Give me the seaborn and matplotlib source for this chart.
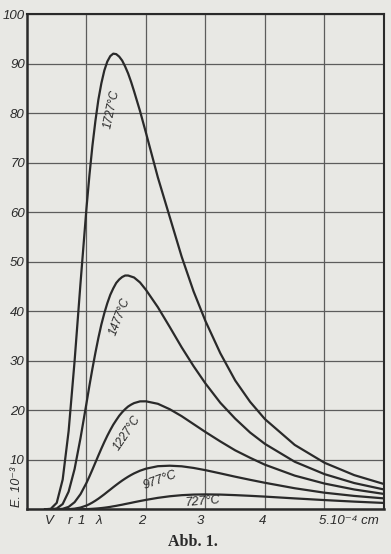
import matplotlib
matplotlib.use('Agg')
import matplotlib.pyplot as plt
import seaborn as sns
import pandas as pd

##longitudes de onda (10^-4 cm) y energia E.10^-3
lam = [0.3, 0.4, 0.5, 0.6, 0.7, 0.8, 0.9, 1.0,
       1.05, 1.1, 1.15, 1.2, 1.25, 1.3, 1.35, 1.4, 1.45, 1.5, 1.55, 1.6, 1.65, 1.7, 1.75, 1.8,
       1.9, 2.0, 2.2, 2.4, 2.6, 2.8, 3.0, 3.25, 3.5, 3.75, 4.0, 4.5, 5.0, 5.5, 6.0]

e_1727 = [0, 0.1, 1.3, 6.0, 15.8, 29.9, 45.7, 60.8,
          67.5, 73.4, 78.4, 82.7, 86.0, 88.6, 90.4, 91.5, 92.0, 91.9, 91.4, 90.6, 89.4, 88.0, 86.3, 84.4,
          80.4, 76.0, 67.0, 59.0, 51.0, 44.0, 38.0, 31.5, 26.0, 21.7, 18.2, 13.0, 9.4, 6.9, 5.1]
e_1477 = [0, 0.01, 0.16, 1.06, 3.57, 8.12, 14.4, 21.4,
          25.0, 28.4, 31.6, 34.6, 37.3, 39.6, 41.6, 43.3, 44.6, 45.7, 46.4, 46.9, 47.2, 47.2, 47.0, 46.8,
          45.8, 44.3, 40.8, 36.8, 32.7, 28.9, 25.4, 21.5, 18.3, 15.5, 13.2, 9.6, 7.1, 5.3, 4.0]
e_1227 = [0, 0, 0.01, 0.10, 0.49, 1.43, 3.06, 5.33,
          6.64, 8.02, 9.44, 10.86, 12.25, 13.58, 14.84, 16.0, 17.08, 18.0, 18.88, 19.6, 20.22, 20.75, 21.13, 21.44,
          21.79, 21.8, 21.3, 20.2, 18.8, 17.2, 15.6, 13.7, 11.9, 10.4, 9.0, 6.8, 5.2, 4.0, 3.1]
e_977 = [0, 0, 0, 0, 0.03, 0.13, 0.35, 0.76,
         1.04, 1.37, 1.74, 2.14, 2.58, 3.03, 3.51, 3.98, 4.46, 4.92, 5.37, 5.80, 6.20, 6.58, 6.93, 7.25,
         7.79, 8.20, 8.70, 8.80, 8.68, 8.35, 7.90, 7.25, 6.58, 5.95, 5.35, 4.25, 3.35, 2.70, 2.20]
e_727 = [0, 0, 0, 0, 0, 0.003, 0.014, 0.04,
         0.064, 0.10, 0.14, 0.19, 0.25, 0.32, 0.40, 0.49, 0.60, 0.70, 0.82, 0.93, 1.06, 1.18, 1.30, 1.43,
         1.67, 1.90, 2.31, 2.63, 2.85, 2.97, 3.01, 2.97, 2.86, 2.72, 2.56, 2.20, 1.86, 1.55, 1.28]

temps = ['1727°C', '1477°C', '1227°C', '977°C', '727°C']
y_ticks = [0, 10, 20, 30, 40, 50, 60, 70, 80, 90, 100]
x_grid = [1, 2, 3, 4, 5]
x_labels = ['V', 'r', '1', 'λ', '2', '3', '4']
x_label_pos = [0.37, 0.72, 0.91, 1.21, 1.93, 2.92, 3.96]

##tabla larga para seaborn
tmp_1 = pd.DataFrame({'lam': lam, temps[0]: e_1727, temps[1]: e_1477, temps[2]: e_1227,
                      temps[3]: e_977, temps[4]: e_727})
tmp_2 = tmp_1.melt(id_vars='lam', var_name='temp', value_name='E')

sns.set_theme(style='white')
plt.rcParams['font.family'] = ['Liberation Sans', 'DejaVu Sans']

papel = '#e8e8e4'
tinta = '#2a2a2a'

fig = plt.figure(figsize=(3.91, 5.54), dpi=100, facecolor=papel)
ax = fig.add_axes([0.069, 0.0807, 0.913, 0.894])
ax.set_facecolor(papel)

sns.lineplot(data=tmp_2, x='lam', y='E', hue='temp', palette=[tinta] * 5, estimator=None,
             legend=False, linewidth=1.6, ax=ax)

ax.set_xlim(0, 6)
ax.set_ylim(0, 100)
ax.set_xlabel('')
ax.set_ylabel('')
ax.set_xticks(x_grid)
ax.set_xticklabels([])
ax.set_yticks(y_ticks)
ax.set_yticklabels([''] + [str(v) for v in y_ticks[1:]], fontstyle='italic', fontsize=9.5, color=tinta)
ax.tick_params(length=0, pad=1.5)
ax.grid(True, color='#5c5c5c', linewidth=0.9)
ax.set_axisbelow(True)
for s in ax.spines.values():
    s.set_color(tinta)
    s.set_linewidth(1.5)
ax.spines['left'].set_linewidth(1.8)
ax.spines['bottom'].set_linewidth(1.8)

##etiquetas de las curvas
ax.text(1.42, 80.7, temps[0], rotation=78, ha='center', va='center', fontstyle='italic', fontsize=8.5, color=tinta)
ax.text(1.57, 39.0, temps[1], rotation=69, ha='center', va='center', fontstyle='italic', fontsize=8.5, color=tinta)
ax.text(1.68, 15.3, temps[2], rotation=56, ha='center', va='center', fontstyle='italic', fontsize=8.5, color=tinta)
ax.text(2.24, 5.8, temps[3], rotation=20, ha='center', va='center', fontstyle='italic', fontsize=9, color=tinta)
ax.text(2.95, 1.55, temps[4], rotation=5, ha='center', va='center', fontstyle='italic', fontsize=9, color=tinta)

##eje x a mano
trans = ax.get_xaxis_transform()
for p, t in zip(x_label_pos, x_labels):
    ax.text(p, -0.024, t, transform=trans, ha='center', va='center', fontstyle='italic', fontsize=9.5, color=tinta)
ax.text(4.91, -0.024, '5.10⁻⁴ cm', transform=trans, ha='left', va='center', fontstyle='italic', fontsize=9.5, color=tinta)

ax.text(-0.028, 0.045, 'E. 10⁻³', transform=ax.transAxes, rotation=90, ha='center', va='center',
        fontstyle='italic', fontsize=9, color=tinta)

fig.text(0.494, 0.021, 'Abb. 1.', ha='center', va='center', fontsize=11.5, fontweight='bold',
         family='Liberation Serif', color=tinta)

plt.savefig('out.png', dpi=100, facecolor=papel)
